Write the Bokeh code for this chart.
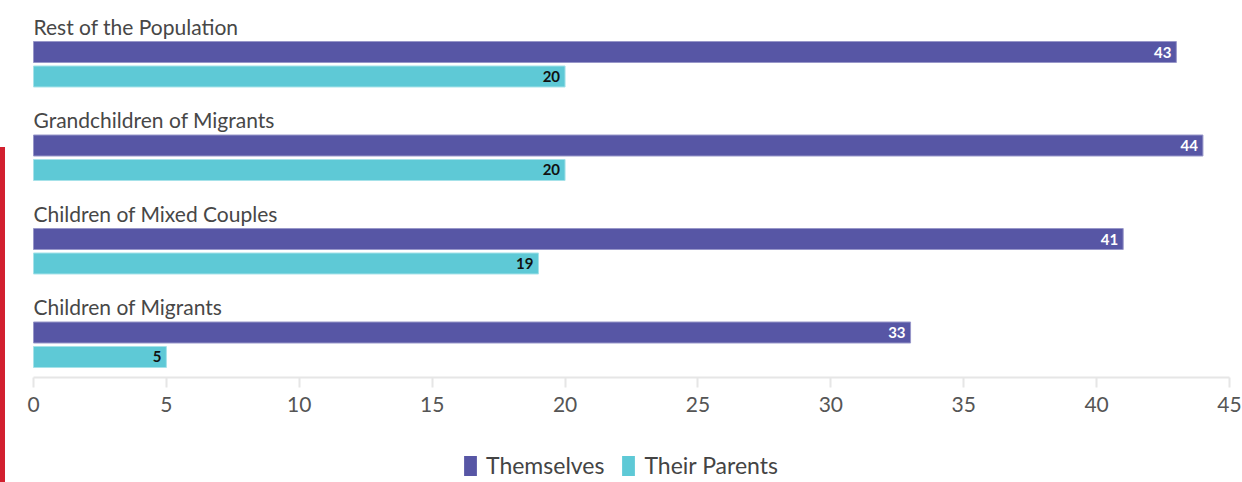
import numpy as np
from bokeh.plotting import figure
from bokeh.layouts import column
from bokeh.models import (Range1d, FixedTicker, ColumnDataSource, Legend, LegendItem,
                          LinearAxis)
from bokeh.core.properties import value
from bokeh.embed import file_html
from bokeh.resources import INLINE

# ---- data ----
categories = ["Rest of the Population", "Grandchildren of Migrants",
              "Children of Mixed Couples", "Children of Migrants"]
themselves = [43, 44, 41, 33]
their_parents = [20, 20, 19, 5]
series_names = ["Themselves", "Their Parents"]
x_ticks = [0, 5, 10, 15, 20, 25, 30, 35, 40, 45]

# ---- style / layout ----
FONT = "Lato"
PURPLE = "#5756a5"
CYAN = "#5ec9d6"
PURPLE_EDGE = "#9897c9"
CYAN_EDGE = "#a6e2e9"
RED = "#d2202f"
W, H = 1242, 482
H_MAIN = 430
H_LEG = H - H_MAIN
X0 = 33.0                      # pixel of value 0
PX = 1196.0 / 45.0             # pixels per unit
GROUP = 93.5                   # pixels between groups
C0 = 51.5                      # pixel centre of first bar
FRAME_BOTTOM = 377

x_start = -X0 / PX
x_end = (W - X0) / PX
y_top = -C0 / GROUP
y_bottom = (FRAME_BOTTOM - C0) / GROUP

p = figure(width=W, height=H_MAIN, output_backend="svg", toolbar_location=None,
           x_range=Range1d(x_start, x_end), y_range=Range1d(y_bottom, y_top),
           x_axis_location=None, y_axis_location=None,
           min_border_left=0, min_border_right=0, min_border_top=0,
           min_border_bottom=H_MAIN - FRAME_BOTTOM)
p.outline_line_color = None
p.background_fill_color = None
p.border_fill_color = None
for g in p.grid:
    g.visible = False

ax = LinearAxis(ticker=FixedTicker(ticks=x_ticks), bounds=(0, 45),
                axis_line_color="#e6e6e6", axis_line_width=2,
                major_tick_line_color="#e6e6e6", major_tick_line_width=2,
                major_tick_in=0, major_tick_out=10,
                minor_tick_line_color=None,
                major_label_text_font=FONT, major_label_text_font_size="21px",
                major_label_text_color="#555555", major_label_standoff=9)
p.add_layout(ax, "below")

idx = np.arange(len(categories))
src = ColumnDataSource(dict(
    cat=categories,
    them=themselves,
    par=their_parents,
    y_them=idx + 0.0,
    y_par=idx + 0.262,
    y_lab=idx - 0.278,
    them_lbl=[str(v) for v in themselves],
    par_lbl=[str(v) for v in their_parents],
))

BAR_H = 21.0 / GROUP
p.hbar(y="y_them", left=0, right="them", height=BAR_H, source=src,
       fill_color=PURPLE, line_color=PURPLE_EDGE, line_width=1)
p.hbar(y="y_par", left=0, right="par", height=BAR_H, source=src,
       fill_color=CYAN, line_color=CYAN_EDGE, line_width=1)

p.text(x=0, y="y_lab", text="cat", source=src, text_font=value(FONT),
       text_font_size="21px", text_color="#474747",
       text_baseline="middle", text_align="left")
p.text(x="them", y="y_them", text="them_lbl", source=src, x_offset=-5,
       text_font=value(FONT), text_font_size="15px", text_font_style="bold",
       text_color="white", text_align="right", text_baseline="middle")
p.text(x="par", y="y_par", text="par_lbl", source=src, x_offset=-5,
       text_font=value(FONT), text_font_size="15px", text_font_style="bold",
       text_color="#111111", text_align="right", text_baseline="middle")

# ---- legend strip (key glyphs only; their bars have zero size, off range) ----
q = figure(width=W, height=H_LEG, output_backend="svg", toolbar_location=None,
           x_range=Range1d(0, 1), y_range=Range1d(0, 1),
           x_axis_location=None, y_axis_location=None,
           min_border_left=0, min_border_right=0, min_border_top=0,
           min_border_bottom=0)
q.outline_line_color = None
q.background_fill_color = None
q.border_fill_color = None
for g in q.grid:
    g.visible = False
k1 = q.hbar(y=[-10], left=[-5], right=[-5], height=0.5,
            fill_color=PURPLE, line_color=None)
k2 = q.hbar(y=[-10], left=[-5], right=[-5], height=0.5,
            fill_color=CYAN, line_color=None)
legend = Legend(items=[LegendItem(label=series_names[0], renderers=[k1]),
                       LegendItem(label=series_names[1], renderers=[k2])],
                orientation="horizontal", location=(462, 3),
                glyph_width=16, glyph_height=25, label_height=25,
                label_standoff=8, spacing=16, padding=0, margin=0,
                border_line_color=None, background_fill_alpha=0,
                label_text_font=FONT, label_text_font_size="23px",
                label_text_color="#444444")
q.add_layout(legend, "center")

layout = column(p, q, spacing=0,
                styles={"background": f"linear-gradient({RED}, {RED}) 0 147px / 5px {H - 147}px no-repeat, white"})

open("out.html", "w").write(file_html(layout, INLINE))
